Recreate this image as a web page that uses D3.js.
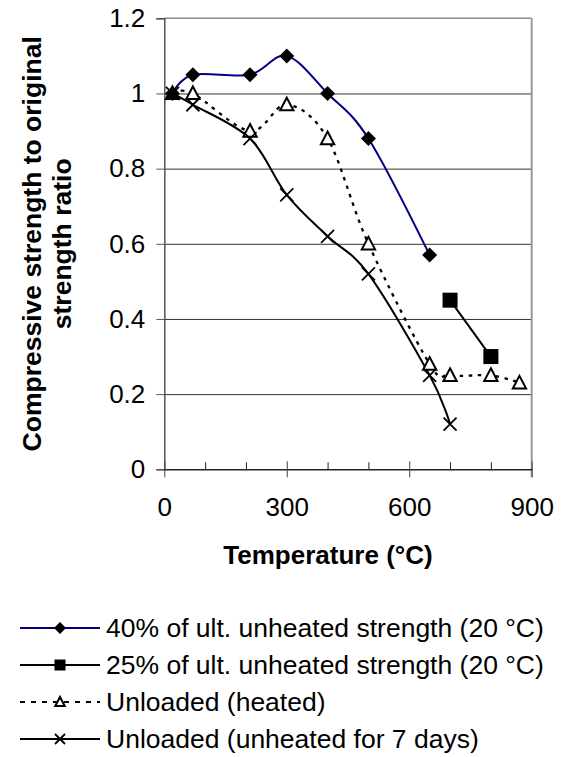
<!DOCTYPE html>
<html>
<head>
<meta charset="utf-8">
<script src="https://cdn.jsdelivr.net/npm/d3@7"></script>
<style>
  html, body { margin: 0; padding: 0; background: #fff; }
  svg { display: block; font-family: "Liberation Sans", Arial, sans-serif; }
</style>
</head>
<body>
<svg id="chart" width="563" height="757"></svg>
<script>
// ---- data ----
const seriesNames = [
  "40% of ult. unheated strength (20 °C)",
  "25% of ult. unheated strength (20 °C)",
  "Unloaded (heated)",
  "Unloaded (unheated for 7 days)"
];
const loaded40Temp = [20, 70, 210, 300, 400, 500, 650];
const loaded40Ratio = [1.0, 1.05, 1.05, 1.1, 1.0, 0.88, 0.57];
const loaded25Temp = [700, 800];
const loaded25Ratio = [0.45, 0.30];
const heatedTemp = [20, 70, 210, 300, 400, 500, 650, 700, 800, 870];
const heatedRatio = [1.0, 1.0, 0.9, 0.97, 0.88, 0.6, 0.28, 0.25, 0.25, 0.23];
const unheatedTemp = [20, 70, 210, 300, 400, 500, 650, 700];
const unheatedRatio = [1.0, 0.97, 0.88, 0.73, 0.62, 0.52, 0.25, 0.12];
const xTickLabels = [0, 300, 600, 900];
const xMinorTicks = [100, 200, 400, 500, 700, 800];
const yTickLabels = [0, 0.2, 0.4, 0.6, 0.8, 1, 1.2];
const xTitle = "Temperature (°C)";
const yTitleLines = ["Compressive strength to original", "strength ratio"];

// ---- layout ----
const svg = d3.select("#chart");
const L = 164.3, R = 531.7, T = 18.3, B = 469.3;
const x = d3.scaleLinear().domain([0, 900]).range([L, R]);
const y = d3.scaleLinear().domain([0, 1.2]).range([B, T]);
const FS = 26;

// gridlines
svg.append("g")
  .attr("transform", `translate(${L},0)`)
  .call(d3.axisLeft(y).tickValues([0.2, 0.4, 0.6, 0.8, 1]).tickSize(-(R - L)).tickFormat(""))
  .call(g => g.select(".domain").remove())
  .call(g => g.selectAll("line").attr("stroke", "#333").attr("stroke-width", 1));

// top & right border
svg.append("line").attr("x1", L).attr("x2", R).attr("y1", T).attr("y2", T)
  .attr("stroke", "#8c8c8c").attr("stroke-width", 1.5);
svg.append("line").attr("x1", R).attr("x2", R).attr("y1", T).attr("y2", B + 8)
  .attr("stroke", "#9a9a9a").attr("stroke-width", 2);

// y axis
svg.append("g")
  .attr("transform", `translate(${L},0)`)
  .call(d3.axisLeft(y).tickValues(yTickLabels).tickSize(8).tickPadding(11)
    .tickFormat(d => d3.format("~g")(d)))
  .call(g => g.select(".domain").attr("stroke", "#555").attr("stroke-width", 1.5))
  .call(g => g.selectAll("line").attr("stroke", "#555").attr("stroke-width", 1))
  .call(g => g.selectAll("text").attr("font-size", FS).attr("fill", "#000")
    .attr("font-family", "Liberation Sans, Arial, sans-serif"));

// x axis minor ticks (inside)
svg.append("g")
  .attr("transform", `translate(0,${B})`)
  .call(d3.axisBottom(x).tickValues(xMinorTicks).tickSize(-7).tickFormat(""))
  .call(g => g.select(".domain").remove())
  .call(g => g.selectAll("line").attr("stroke", "#222").attr("stroke-width", 1));
// x axis major ticks (crossing) + labels
svg.append("g")
  .attr("transform", `translate(0,${B})`)
  .call(d3.axisBottom(x).tickValues(xTickLabels).tickSize(8).tickPadding(20).tickSizeOuter(0))
  .call(g => g.select(".domain").attr("stroke", "#222").attr("stroke-width", 1.5))
  .call(g => g.selectAll(".tick line").attr("y1", -8).attr("stroke", "#444").attr("stroke-width", 1))
  .call(g => g.selectAll("text").attr("font-size", FS).attr("fill", "#000")
    .attr("font-family", "Liberation Sans, Arial, sans-serif"));

// axis titles
svg.append("text").attr("x", 328).attr("y", 564).attr("text-anchor", "middle")
  .attr("font-size", FS).attr("font-weight", "bold").text(xTitle);
const yt = svg.append("g").attr("transform", `translate(0,${(T + B) / 2}) rotate(-90)`);
yTitleLines.forEach((t, i) => {
  yt.append("text").attr("x", 0).attr("y", 41 + i * 30).attr("text-anchor", "middle")
    .attr("font-size", 26.5).attr("font-weight", "bold").text(t);
});

// ---- series ----
const curve = d3.curveCardinal.tension(0);
const line = d3.line().x(d => x(d[0])).y(d => y(d[1]));
const zip = (a, b) => a.map((v, i) => [v, b[i]]);
const s40 = zip(loaded40Temp, loaded40Ratio);
const s25 = zip(loaded25Temp, loaded25Ratio);
const sHeated = zip(heatedTemp, heatedRatio);
const sUnheated = zip(unheatedTemp, unheatedRatio);

const plot = svg.append("g");
plot.append("path").datum(sUnheated).attr("d", line.curve(curve))
  .attr("fill", "none").attr("stroke", "#000").attr("stroke-width", 2);
plot.append("path").datum(sHeated).attr("d", line.curve(curve))
  .attr("fill", "none").attr("stroke", "#000").attr("stroke-width", 2.3)
  .attr("stroke-dasharray", "3.5,5.5");
plot.append("path").datum(s25).attr("d", line.curve(d3.curveLinear))
  .attr("fill", "none").attr("stroke", "#000").attr("stroke-width", 2);
plot.append("path").datum(s40).attr("d", line.curve(curve))
  .attr("fill", "none").attr("stroke", "#000080").attr("stroke-width", 2);

function diamond(g, cx, cy, r) {
  g.append("path").attr("d", `M${cx},${cy - r}L${cx + r},${cy}L${cx},${cy + r}L${cx - r},${cy}Z`)
    .attr("fill", "#000");
}
function square(g, cx, cy, r) {
  g.append("rect").attr("x", cx - r).attr("y", cy - r).attr("width", 2 * r).attr("height", 2 * r)
    .attr("fill", "#000");
}
function triangle(g, cx, cy, r) {
  g.append("path")
    .attr("d", `M${cx},${cy - r}L${cx + r * 0.95},${cy + r * 0.8}L${cx - r * 0.95},${cy + r * 0.8}Z`)
    .attr("fill", "#fff").attr("stroke", "#000").attr("stroke-width", 2);
}
function cross(g, cx, cy, r) {
  g.append("path").attr("d", `M${cx - r},${cy - r}L${cx + r},${cy + r}M${cx - r},${cy + r}L${cx + r},${cy - r}`)
    .attr("stroke", "#000").attr("stroke-width", 1.8).attr("fill", "none");
}

sHeated.forEach(d => triangle(plot, x(d[0]), y(d[1]), 7));
sUnheated.forEach(d => cross(plot, x(d[0]), y(d[1]), 6.5));
s25.forEach(d => square(plot, x(d[0]), y(d[1]), 7.5));
s40.forEach(d => diamond(plot, x(d[0]), y(d[1]), 7.5));

// ---- legend ----
const legY = [628, 665, 702, 739];
const lx1 = 20, lx2 = 100, lm = 60, tx = 106;
const leg = svg.append("g");
// 40%
leg.append("line").attr("x1", lx1).attr("x2", lx2).attr("y1", legY[0]).attr("y2", legY[0])
  .attr("stroke", "#000080").attr("stroke-width", 2);
diamond(leg, lm, legY[0], 6);
// 25%
leg.append("line").attr("x1", lx1).attr("x2", lx2).attr("y1", legY[1]).attr("y2", legY[1])
  .attr("stroke", "#000").attr("stroke-width", 2);
square(leg, lm, legY[1], 5.5);
// heated
leg.append("line").attr("x1", lx1).attr("x2", lx2).attr("y1", legY[2]).attr("y2", legY[2])
  .attr("stroke", "#000").attr("stroke-width", 2).attr("stroke-dasharray", "5,6");
triangle(leg, lm, legY[2], 5);
// unheated
leg.append("line").attr("x1", lx1).attr("x2", lx2).attr("y1", legY[3]).attr("y2", legY[3])
  .attr("stroke", "#000").attr("stroke-width", 2);
cross(leg, lm, legY[3], 5);

seriesNames.forEach((n, i) => {
  leg.append("text").attr("x", tx).attr("y", legY[i]).attr("dy", "0.35em")
    .attr("font-size", 26.5).attr("fill", "#000").text(n);
});
</script>
</body>
</html>
